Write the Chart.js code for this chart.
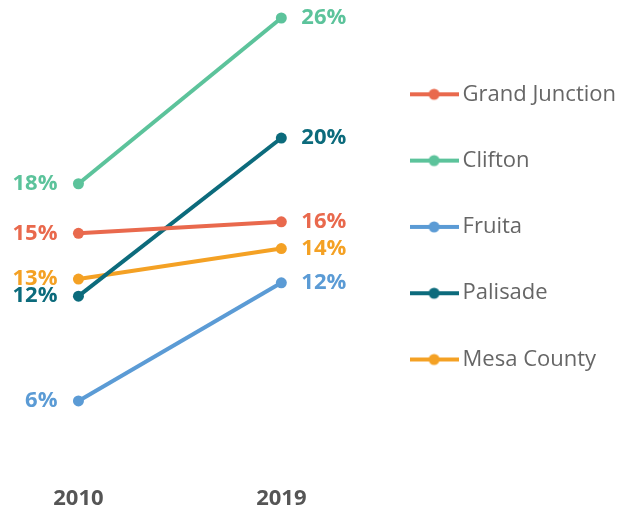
<!DOCTYPE html>
<html>
<head>
<meta charset="utf-8">
<script src="https://cdn.jsdelivr.net/npm/chart.js@4.4.1/dist/chart.umd.min.js"></script>
<style>
    html, body { margin: 0; padding: 0; background: #fff; }
    #wrap { width: 632px; height: 514px; }
</style>
</head>
<body>
<div id="wrap"><canvas id="slopeChart"></canvas></div>
<script>
// data (labels are rounded values)
var years = ["2010", "2019"];
var places = ["Grand Junction", "Clifton", "Fruita", "Palisade", "Mesa County"];
var grandJunction = [15.0, 15.6];
var clifton = [17.6, 26.3];
var fruita = [6.2, 12.4];
var palisade = [11.7, 20.0];
var mesaCounty = [12.6, 14.2];

var seriesValues = [grandJunction, clifton, fruita, palisade, mesaCounty];
var seriesColors = ["#e9694d", "#5cc39b", "#5b9bd5", "#0c6b7c", "#f4a124"];

function legendMarker(color) {
    var c = document.createElement("canvas");
    c.width = 49;
    c.height = 14;
    var g = c.getContext("2d");
    g.strokeStyle = color;
    g.lineWidth = 4;
    g.beginPath();
    g.moveTo(0, 7);
    g.lineTo(49, 7);
    g.stroke();
    g.fillStyle = color;
    g.beginPath();
    g.arc(24.5, 7, 5.5, 0, Math.PI * 2);
    g.fill();
    return c;
}

var endLabels = {
    id: "endLabels",
    afterDatasetsDraw: function (chart) {
        var ctx = chart.ctx;
        ctx.save();
        ctx.font = "bold 22px 'Open Sans'";
        ctx.textBaseline = "middle";
        chart.data.datasets.forEach(function (ds, i) {
            var meta = chart.getDatasetMeta(i);
            meta.data.forEach(function (pt, j) {
                ctx.fillStyle = ds.borderColor;
                ctx.textAlign = j === 0 ? "right" : "left";
                var dx = j === 0 ? -21 : 20;
                ctx.fillText(Math.round(ds.data[j].y) + "%", pt.x + dx, pt.y);
            });
        });
        ctx.restore();
    },
};

document.addEventListener("DOMContentLoaded", function () {
    var ctx = document.getElementById("slopeChart").getContext("2d");
    var datasets = places.map(function (name, i) {
        return {
            label: name,
            data: seriesValues[i].map(function (v, j) {
                return { x: j, y: v };
            }),
            borderColor: seriesColors[i],
            backgroundColor: seriesColors[i],
            borderWidth: 4,
            pointRadius: 5.5,
            pointBorderWidth: 0,
            pointHoverRadius: 5.5,
            clip: false,
        };
    });

    new Chart(ctx, {
        type: "line",
        data: { datasets: datasets },
        options: {
            responsive: true,
            maintainAspectRatio: false,
            animation: false,
            layout: {
                padding: { top: 10, right: 6, bottom: 0.8, left: 0 },
            },
            scales: {
                x: {
                    type: "linear",
                    min: -0.3596,
                    max: 1.4483,
                    grid: { display: false, drawTicks: false },
                    border: { display: false },
                    afterBuildTicks: function (scale) {
                        scale.ticks = years.map(function (y, i) {
                            return { value: i };
                        });
                    },
                    afterFit: function (scale) {
                        scale.paddingLeft = 0;
                        scale.paddingRight = 0;
                    },
                    ticks: {
                        padding: 1,
                        color: "#555",
                        font: { family: "Open Sans", size: 22, weight: "bold" },
                        callback: function (v) {
                            return years[v];
                        },
                    },
                },
                y: {
                    display: false,
                    min: 1.80,
                    max: 26.72,
                },
            },
            plugins: {
                tooltip: { enabled: false },
                legend: {
                    position: "right",
                    align: "start",
                    title: {
                        display: true,
                        text: "",
                        font: { size: 10 },
                        padding: { top: 17, bottom: 0 },
                    },
                    labels: {
                        usePointStyle: true,
                        pointStyleWidth: 35,
                        padding: 44.3,
                        color: "#666",
                        font: { family: "Open Sans", size: 22 },
                        generateLabels: function (chart) {
                            var items = Chart.defaults.plugins.legend.labels.generateLabels(chart);
                            items.forEach(function (it, i) {
                                it.pointStyle = legendMarker(seriesColors[i]);
                            });
                            return items;
                        },
                    },
                },
            },
        },
        plugins: [endLabels],
    });
});
</script>
</body>
</html>
